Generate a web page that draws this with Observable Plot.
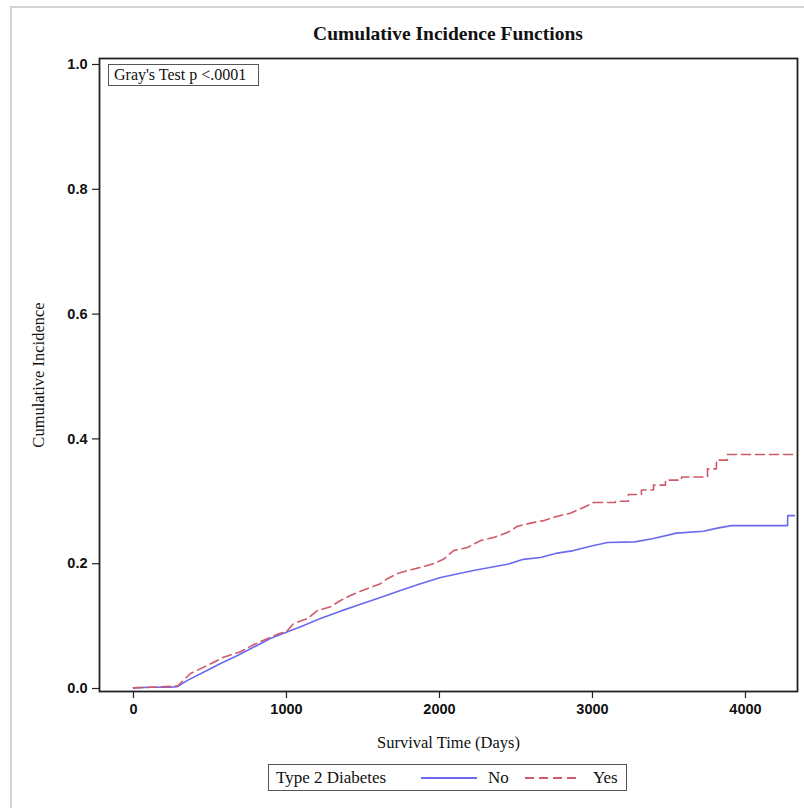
<!DOCTYPE html>
<html>
<head>
<meta charset="utf-8">
<script src="https://cdn.jsdelivr.net/npm/d3@7"></script>
<script src="https://cdn.jsdelivr.net/npm/@observablehq/plot@0.6"></script>
<style>
  html, body { margin: 0; padding: 0; background: #fff; }
  #page { position: relative; width: 804px; height: 808px; overflow: hidden; background: #fff; }
  #border { position: absolute; left: 10px; top: 6px; width: 820px; height: 820px; border-left: 2px solid #d4d4d4; border-top: 2px solid #d4d4d4; }
  #title { position: absolute; left: 99px; width: 698px; top: 23px; text-align: center; font-family: "Liberation Serif", "DejaVu Serif", serif; font-weight: bold; font-size: 19.5px; color: #111; }
  #chart { position: absolute; left: 0; top: 0; }
  #gray { position: absolute; left: 108px; top: 64px; width: 144px; height: 20px; border: 1px solid #555; background: #fff; font-family: "Liberation Serif", serif; font-size: 16px; line-height: 20px; padding-left: 5px; box-sizing: content-box; color: #111; white-space: nowrap; }
  #legend { position: absolute; left: 268px; top: 764px; width: 357px; height: 25px; border: 1px solid #555; background: #fff; font-family: "Liberation Serif", serif; font-size: 17px; line-height: 25px; color: #111; }
  #legend span, #legend svg { position: absolute; white-space: nowrap; }
</style>
</head>
<body>
<div id="page">
  <div id="border"></div>
  <div id="title"></div>
  <div id="chart"></div>
  <div id="gray"></div>
  <div id="legend"></div>
</div>
<script>
// ---- data ----
const titleText = "Cumulative Incidence Functions";
const xLabel = "Survival Time (Days)";
const yLabel = "Cumulative Incidence";
const testText = "Gray's Test p <.0001";
const legendTitle = "Type 2 Diabetes";
const groups = ["No", "Yes"];

const xTicks = [0, 1000, 2000, 3000, 4000];
const yTicks = [0.0, 0.2, 0.4, 0.6, 0.8, 1.0];

// Type 2 Diabetes = No
const daysNo = [0, 111, 242, 288, 353, 458, 569, 680, 784, 895, 1007, 1092, 1222, 1353, 1484, 1614, 1745, 1876, 2007, 2222, 2444, 2549, 2660, 2771, 2876, 2987, 3098, 3275, 3392, 3549, 3725, 3817, 3908, 4275, 4276, 4320];
const incNo  = [0.001, 0.002, 0.002, 0.003, 0.013, 0.026, 0.040, 0.053, 0.066, 0.080, 0.091, 0.099, 0.112, 0.124, 0.135, 0.146, 0.157, 0.168, 0.178, 0.189, 0.199, 0.207, 0.210, 0.217, 0.221, 0.228, 0.234, 0.235, 0.240, 0.249, 0.252, 0.257, 0.261, 0.261, 0.277, 0.277];

// Type 2 Diabetes = Yes
const daysYes = [0, 111, 288, 373, 484, 588, 699, 784, 895, 1007, 1046, 1137, 1203, 1288, 1353, 1418, 1484, 1549, 1614, 1660, 1725, 1791, 1876, 1961, 2026, 2092, 2183, 2268, 2353, 2444, 2510, 2595, 2680, 2771, 2856, 2941, 3007, 3150, 3235, 3320, 3399, 3477, 3582, 3752, 3810, 3882, 4314];
const incYes  = [0.001, 0.002, 0.004, 0.024, 0.037, 0.050, 0.059, 0.070, 0.082, 0.093, 0.104, 0.112, 0.125, 0.131, 0.141, 0.149, 0.156, 0.162, 0.168, 0.176, 0.184, 0.189, 0.194, 0.200, 0.207, 0.221, 0.226, 0.237, 0.242, 0.250, 0.260, 0.265, 0.269, 0.276, 0.281, 0.290, 0.298, 0.300, 0.311, 0.318, 0.326, 0.334, 0.339, 0.352, 0.366, 0.375, 0.375];
const stepStart = 3007; // from here on the Yes curve shows clear steps

const blue = "#6a6af0";
const red = "#cf5a68";
const dash = "9,5";
const serif = "'Liberation Serif', 'DejaVu Serif', serif";
const sans = "'Liberation Sans Narrow', 'Liberation Sans', Arial, sans-serif";

const noData = daysNo.map((t, i) => ({t, v: incNo[i], g: groups[0]}));
const yesData = daysYes.map((t, i) => ({t, v: incYes[i], g: groups[1]}));

document.getElementById("title").textContent = titleText;
document.getElementById("gray").textContent = testText;

const chart = Plot.plot({
  width: 804,
  height: 740,
  marginLeft: 99,
  marginRight: 7,
  marginTop: 58,
  marginBottom: 49,
  style: {fontFamily: serif, background: "transparent", color: "#111", overflow: "visible"},
  x: {domain: [-222, 4340]},
  y: {domain: [-0.0048, 1.0096]},
  marks: [
    Plot.axisX({ticks: xTicks, tickSize: 7, tickPadding: 5, tickFormat: d => String(d), label: null,
      fontFamily: sans, fontWeight: "bold", fontSize: 14.5, stroke: "#222", strokeWidth: 1.2}),
    Plot.axisY({ticks: yTicks, tickSize: 7, tickPadding: 5, tickFormat: d3.format(".1f"), label: null,
      fontFamily: sans, fontWeight: "bold", fontSize: 14.5, stroke: "#222", strokeWidth: 1.2}),
    Plot.line(noData, {x: "t", y: "v", stroke: blue, strokeWidth: 1.6, curve: "linear"}),
    Plot.line(yesData.filter(d => d.t <= stepStart), {x: "t", y: "v", stroke: red, strokeWidth: 1.6, strokeDasharray: dash, curve: "linear"}),
    Plot.line(yesData.filter(d => d.t >= stepStart), {x: "t", y: "v", stroke: red, strokeWidth: 1.6, strokeDasharray: dash, curve: "step-after"}),
    Plot.frame({stroke: "#222", strokeWidth: 1.8}),
    Plot.text([xLabel], {frameAnchor: "bottom", dy: 56, fontFamily: serif, fontSize: 16.5, fill: "#111"}),
    Plot.text([yLabel], {frameAnchor: "left", dx: -61, rotate: -90, textAnchor: "middle", fontFamily: serif, fontSize: 16.5, fill: "#111"})
  ]
});
document.getElementById("chart").appendChild(chart);

// legend
const leg = document.getElementById("legend");
const s1 = document.createElement("span"); s1.textContent = legendTitle; s1.style.left = "7px"; leg.appendChild(s1);
function sample(left, color, dashed) {
  const ns = "http://www.w3.org/2000/svg";
  const svg = document.createElementNS(ns, "svg");
  svg.setAttribute("width", 56); svg.setAttribute("height", 25);
  svg.style.left = left + "px"; svg.style.top = "0px";
  const ln = document.createElementNS(ns, "line");
  ln.setAttribute("x1", 0); ln.setAttribute("x2", 56); ln.setAttribute("y1", 13); ln.setAttribute("y2", 13);
  ln.setAttribute("stroke", color); ln.setAttribute("stroke-width", 1.8);
  if (dashed) ln.setAttribute("stroke-dasharray", dash);
  svg.appendChild(ln);
  leg.appendChild(svg);
}
sample(152, blue, false);
const s2 = document.createElement("span"); s2.textContent = groups[0]; s2.style.left = "219px"; leg.appendChild(s2);
sample(256, red, true);
const s3 = document.createElement("span"); s3.textContent = groups[1]; s3.style.left = "324px"; leg.appendChild(s3);
</script>
</body>
</html>
